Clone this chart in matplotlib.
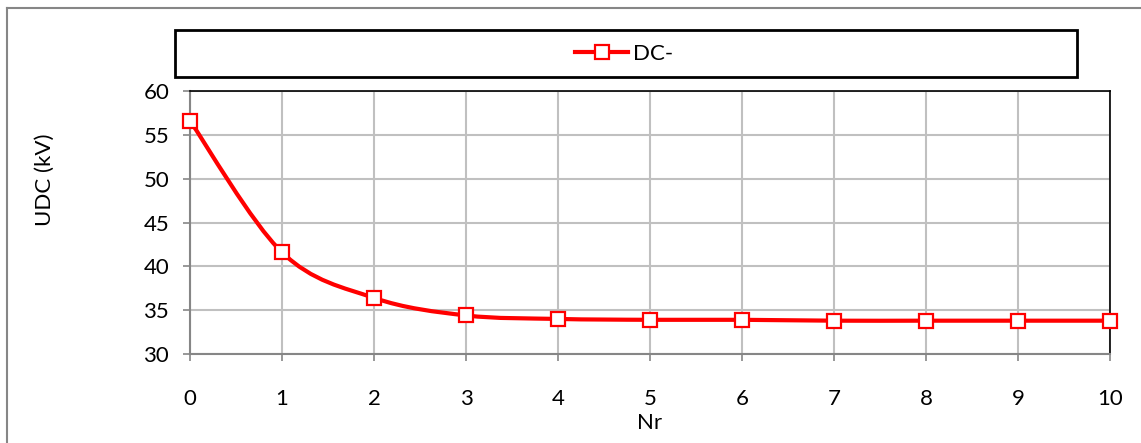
import matplotlib
matplotlib.use("Agg")
import matplotlib.pyplot as plt
import numpy as np
from matplotlib.path import Path
from matplotlib.patches import PathPatch, Rectangle
from matplotlib.lines import Line2D

nr = [0, 1, 2, 3, 4, 5, 6, 7, 8, 9, 10]
udc = [56.6, 41.6, 36.4, 34.4, 34.0, 33.9, 33.9, 33.8, 33.8, 33.8, 33.8]

plt.rcParams['font.family'] = ['Lato', 'DejaVu Sans']

fig = plt.figure(figsize=(11.41, 4.43), dpi=100)
ax = fig.add_axes([190/1141, 89/443, 920/1141, 263/443])

# smoothed line like excel (bezier through the points)
x = np.array(nr, dtype=float)
y = np.array(udc, dtype=float)
verts = [(x[0], y[0])]
codes = [Path.MOVETO]
for i in range(len(x) - 1):
    p0 = np.array([x[max(i-1, 0)], y[max(i-1, 0)]])
    p1 = np.array([x[i], y[i]])
    p2 = np.array([x[i+1], y[i+1]])
    p3 = np.array([x[min(i+2, len(x)-1)], y[min(i+2, len(x)-1)]])
    c1 = p1 + (p2 - p0) / 6
    c2 = p2 - (p3 - p1) / 6
    verts += [tuple(c1), tuple(c2), tuple(p2)]
    codes += [Path.CURVE4] * 3
ax.add_patch(PathPatch(Path(verts, codes), fc='none', ec='#ff0000', lw=3, zorder=3, clip_on=False))
ax.plot(nr, udc, ls='none', marker='s', ms=9.5, mfc='white', mec='#ff0000', mew=1.6, zorder=4, clip_on=False)

ax.set_xlim(0, 10)
ax.set_ylim(30, 60)
ax.set_xticks(range(0, 11))
ax.set_yticks(range(30, 61, 5))
ax.grid(True, color='#c0c0c0', lw=1.5)
ax.set_axisbelow(True)
for s in ['top', 'right']:
    ax.spines[s].set_color('black')
    ax.spines[s].set_linewidth(1.2)
for s in ['left', 'bottom']:
    ax.spines[s].set_color('#868686')
    ax.spines[s].set_linewidth(1.5)
ax.tick_params(axis='both', colors='#868686', labelcolor='black', labelsize=16, length=5, width=1.2)
ax.tick_params(axis='x', pad=20)
ax.tick_params(axis='y', pad=10)
fig.text(650/1141, 1 - 423/443, "Nr", fontsize=16, ha='center', va='center')
fig.text(45/1141, 1 - 180/443, "UDC (kV)", fontsize=16, ha='center', va='center', rotation=90)

# legend box
fig.add_artist(Rectangle((175/1141, 1 - 77/443), 902/1141, 47/443, transform=fig.transFigure,
                         fc='white', ec='black', lw=2))
h = Line2D([], [], color='#ff0000', lw=3, marker='s', ms=9.5, mfc='white', mec='#ff0000', mew=1.6)
fig.legend([h], ["DC-"], loc='center', bbox_to_anchor=(624/1141, 1 - 54/443), frameon=False,
           fontsize=16, handlelength=2.4, handletextpad=0.2)

# outer chart border
fig.add_artist(Line2D([7/1141, 7/1141], [0, 1 - 8/443], transform=fig.transFigure, color='#868686', lw=1.5))
fig.add_artist(Line2D([7/1141, 1], [1 - 8/443, 1 - 8/443], transform=fig.transFigure, color='#868686', lw=1.5))

fig.savefig("out.png", dpi=100)
